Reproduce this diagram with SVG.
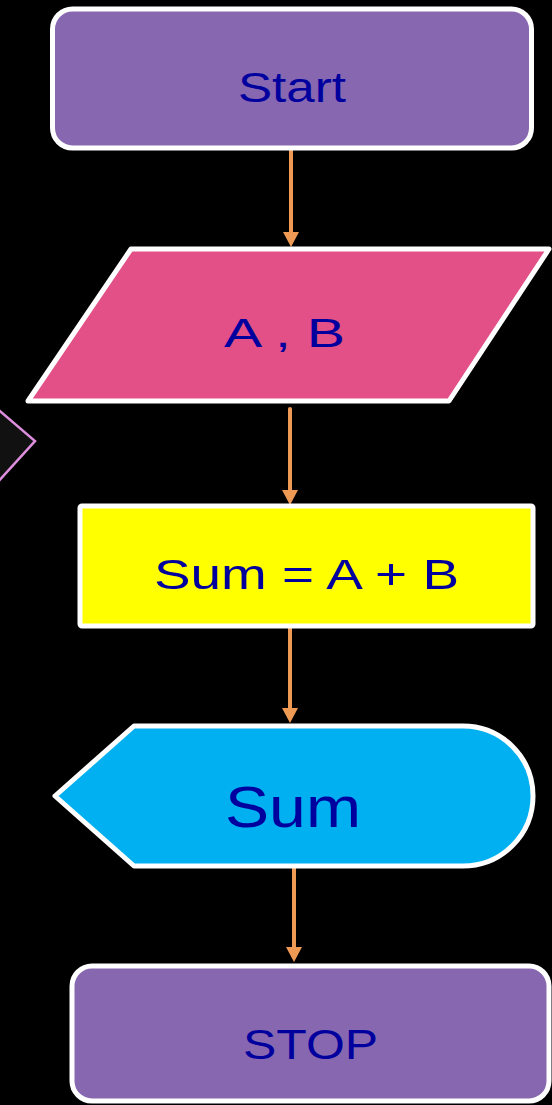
<svg xmlns="http://www.w3.org/2000/svg" width="552" height="1105" viewBox="0 0 552 1105">
<defs>
<style>
.node{stroke:#FFFFFF;stroke-width:5;stroke-linejoin:round}
.lbl{font-family:"Liberation Sans",Arial,sans-serif;fill:#00009E;text-anchor:start}
.conn{stroke:#EE9A55;stroke-width:4;stroke-linecap:round;fill:none}
.head{fill:#EE9A55}
</style>
</defs>
<rect x="0" y="0" width="552" height="1105" fill="#000000"/>
<g id="partial-decision">
<polygon points="-40,377 35,441 -40,524" fill="#111111" stroke="#DD8EDD" stroke-width="2.5"/>
</g>
<g id="connectors">
<line class="conn" x1="291" y1="151" x2="291" y2="234"/>
<polygon class="head" points="283,232 299,232 291,247"/>
<line class="conn" x1="290" y1="409" x2="290" y2="492"/>
<polygon class="head" points="282,490 298,490 290,505"/>
<line class="conn" x1="290" y1="627" x2="290" y2="710"/>
<polygon class="head" points="282,708 298,708 290,723"/>
<line class="conn" x1="294" y1="866" x2="294" y2="949"/>
<polygon class="head" points="286,947 302,947 294,962"/>
</g>
<g id="start">
<rect class="node" x="52.5" y="9" width="479" height="139" rx="20" fill="#8767B0"/>
<text class="lbl" x="238" y="102" font-size="42" textLength="108" lengthAdjust="spacingAndGlyphs">Start</text>
</g>
<g id="input">
<polygon class="node" points="131,249 549,249 449,401 28,401" fill="#E35087"/>
<text class="lbl" x="224" y="347" font-size="40" textLength="121" lengthAdjust="spacingAndGlyphs">A , B</text>
</g>
<g id="process">
<rect class="node" x="80" y="506" width="453" height="120" rx="2" fill="#FFFF00"/>
<text class="lbl" x="154" y="589" font-size="43" textLength="305" lengthAdjust="spacingAndGlyphs">Sum = A + B</text>
</g>
<g id="display">
<path class="node" d="M55 796 L134 726 L463 726 A70 70 0 0 1 463 866 L134 866 Z" fill="#00B0F0"/>
<text class="lbl" x="225" y="827" font-size="57" textLength="136" lengthAdjust="spacingAndGlyphs">Sum</text>
</g>
<g id="stop">
<rect class="node" x="72" y="966" width="477" height="135" rx="20" fill="#8767B0"/>
<text class="lbl" x="243" y="1059" font-size="42" textLength="135" lengthAdjust="spacingAndGlyphs">STOP</text>
</g>
</svg>
